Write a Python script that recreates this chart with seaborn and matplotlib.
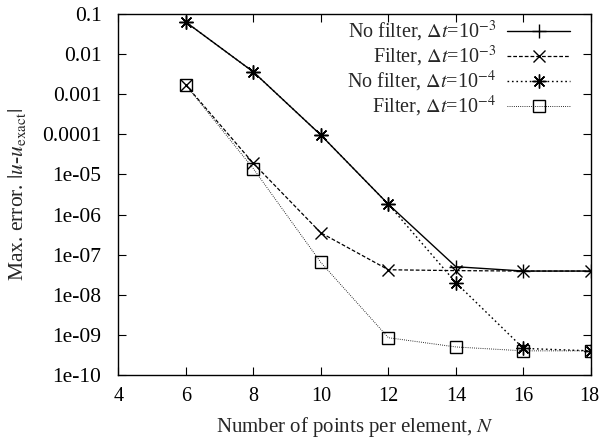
import numpy as np
import pandas as pd
import matplotlib
matplotlib.use("Agg")
import matplotlib.pyplot as plt
import matplotlib.transforms as mtransforms
import seaborn as sns
from matplotlib.ticker import LogLocator, NullFormatter

# Polynomial order (points per element)
N = [6, 8, 10, 12, 14, 16, 18]

# Max error for each run
err_nofilter_dt3 = [6.3e-2, 3.6e-3, 9.6e-5, 1.8e-6, 5.0e-8, 3.9e-8, 3.9e-8]
err_filter_dt3 = [1.7e-3, 1.9e-5, 3.5e-7, 4.2e-8, 4.0e-8, 3.9e-8, 3.9e-8]
err_nofilter_dt4 = [6.3e-2, 3.6e-3, 9.6e-5, 1.8e-6, 2.0e-8, 4.6e-10, 4.0e-10]
err_filter_dt4 = [1.7e-3, 1.4e-5, 6.4e-8, 8.5e-10, 5.0e-10, 4.0e-10, 4.0e-10]

labels = [
    r"No filter, $\Delta t$=10$^{-3}$",
    r"Filter, $\Delta t$=10$^{-3}$",
    r"No filter, $\Delta t$=10$^{-4}$",
    r"Filter, $\Delta t$=10$^{-4}$",
]

xticks = [4, 6, 8, 10, 12, 14, 16, 18]
yticks = [1e-1, 1e-2, 1e-3, 1e-4, 1e-5, 1e-6, 1e-7, 1e-8, 1e-9, 1e-10]
yticklabels = ["0.1", "0.01", "0.001", "0.0001", "1e-05", "1e-06",
               "1e-07", "1e-08", "1e-09", "1e-10"]

frames = []
for lab, vals in zip(labels, [err_nofilter_dt3, err_filter_dt3,
                              err_nofilter_dt4, err_filter_dt4]):
    frames.append(pd.DataFrame({"N": N, "err": vals, "run": lab}))
df = pd.concat(frames, ignore_index=True)

sns.set_style("ticks")
plt.rcParams["font.family"] = ["Liberation Serif", "DejaVu Serif"]
plt.rcParams["mathtext.fontset"] = "stix"

fig = plt.figure(figsize=(6.0, 4.43), dpi=100)
ax = fig.add_axes([0.197, 0.1535, 0.788, 0.815])

styles = [
    dict(linestyle="-", marker="+", markersize=10, lw=1.0, mew=1.0, mfc="black"),
    dict(linestyle=(0, (3.0, 1.6)), marker="x", markersize=9, lw=0.9, mew=1.0, mfc="black"),
    dict(linestyle=(0, (1.2, 2.0)), marker=(8, 2, 0), markersize=10, lw=1.0, mew=1.0, mfc="black"),
    dict(linestyle=(0, (0.8, 1.4)), marker="s", markersize=9, lw=0.7, mew=1.0, mfc="none"),
]

for lab, st in zip(labels, styles):
    sub = df[df["run"] == lab]
    sns.lineplot(data=sub, x="N", y="err", ax=ax, color="black", mec="black",
                 label=lab, estimator=None, **st)

ax.set_yscale("log")
ax.set_xlim(4, 18)
ax.set_ylim(1e-10, 1e-1)
ax.set_xticks(xticks)
ax.set_xticklabels([str(t) for t in xticks])
ax.set_yticks(yticks)
ax.set_yticklabels(yticklabels)
ax.yaxis.set_minor_locator(LogLocator(base=10, subs=(2.0, 5.0, 8.0)))
ax.yaxis.set_minor_formatter(NullFormatter())

for side in ["top", "right", "left", "bottom"]:
    ax.spines[side].set_visible(True)
    ax.spines[side].set_linewidth(1.0)
    ax.spines[side].set_color("black")

ax.tick_params(axis="both", which="major", direction="in", length=6, width=0.8,
               top=True, right=True, colors="black")
ax.tick_params(axis="y", which="major", pad=12, labelsize=15.5)
ax.tick_params(axis="x", which="major", pad=9, labelsize=14.5)
ax.tick_params(axis="y", which="minor", direction="in", length=3, width=0.7,
               left=True, right=True)

# keep the rightmost tick label inside the canvas
last = ax.get_xticklabels()[-1]
last.set_transform(last.get_transform() +
                   mtransforms.ScaledTranslation(-2 / 100, 0, fig.dpi_scale_trans))

ax.set_xlabel(r"Number of points per element, $N$", fontsize=15, labelpad=6)
ax.set_ylabel(r"Max. error. $|u$-$u_{\rm exact}|$", fontsize=15.5, labelpad=10)

leg = ax.legend(loc="upper right", frameon=False, markerfirst=False,
                fontsize=14.5, handlelength=3.1, handletextpad=0.55,
                labelspacing=0.0, borderaxespad=0.3,
                bbox_to_anchor=(0.985, 1.025))

fig.savefig("out.png", dpi=100, facecolor="white")
